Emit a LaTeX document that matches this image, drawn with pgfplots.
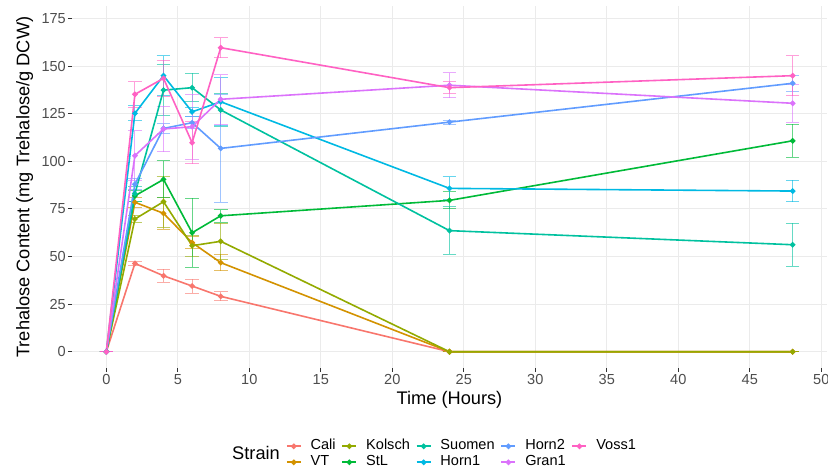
\documentclass[border=0pt]{standalone}
\usepackage{fontspec}
\setmainfont{Liberation Sans}
\usepackage{pgfplots}
\usepackage{pgfplotstable}
\pgfplotsset{compat=1.18}
\definecolor{cCali}{HTML}{F8766D}
\definecolor{cVT}{HTML}{D39200}
\definecolor{cKolsch}{HTML}{93AA00}
\definecolor{cStL}{HTML}{00BA38}
\definecolor{cSuomen}{HTML}{00C19F}
\definecolor{cHornA}{HTML}{00B9E3}
\definecolor{cHornB}{HTML}{619CFF}
\definecolor{cGran}{HTML}{DB72FB}
\definecolor{cVoss}{HTML}{FF61C3}
\definecolor{gridc}{HTML}{EBEBEB}
\definecolor{tickc}{HTML}{333333}
\definecolor{labc}{HTML}{4D4D4D}

\pgfplotstableread{
t v e
0 0 0
2 46.4 1
4 39.9 3.3
6 34.5 3.7
8 29.1 2.4
24 0 0
48 0 0
}\dCali
\pgfplotstableread{
t v e
0 0 0
2 78.5 2.5
4 72.7 8.4
6 57.3 3
8 46.8 4.3
24 0 0
48 0 0
}\dVT
\pgfplotstableread{
t v e
0 0 0
2 69.7 2
4 78.8 13.5
6 55.7 5.5
8 58 9.6
24 0 0
48 0 0
}\dKolsch
\pgfplotstableread{
t v e
0 0 0
2 81.9 3
4 90.5 9.7
6 62.5 18
8 71.4 3.3
24 79.5 4.5
48 110.8 8.7
}\dStL
\pgfplotstableread{
t v e
0 0 0
2 83 4
4 137.4 13.5
6 138.7 7.5
8 127 8.5
24 63.6 12.5
48 56.2 11.4
}\dSuomen
\pgfplotstableread{
t v e
0 0 0
2 125.2 4
4 145 10.5
6 126 2.5
8 131.3 12.7
24 85.8 6
48 84.4 5.7
}\dHornA
\pgfplotstableread{
t v e
0 0 0
2 88 3
4 117.3 2.5
6 120.3 3
8 106.8 28.3
24 120.6 1
48 141 4.2
}\dHornB
\pgfplotstableread{
t v e
0 0 0
2 103 13
4 117 12
6 118.2 17
8 132.6 13
24 140 6.5
48 130.5 10
}\dGran
\pgfplotstableread{
t v e
0 0 0
2 135.2 6.7
4 143.6 9.5
6 109.8 11
8 159.7 5.2
24 138.7 3
48 145 10.5
}\dVoss

\newcommand{\errplot}[2]{\addplot[forget plot, draw=none, mark=none,
  error bars/.cd, y dir=both, y explicit,
  error bar style={draw=#1, line width=1bp, opacity=0.6},
  error mark options={rotate=90, mark size=6.8bp, line width=1bp, draw=#1, opacity=0.6}]
  table[x=t,y=v,y error=e] {#2};}
\newcommand{\lineplot}[2]{\addplot[forget plot, color=#1, line width=1.6bp, mark=*, mark size=1.9bp, mark options={solid}]
  table[x=t,y=v] {#2};}
\newcommand{\legimg}[1]{\addlegendimage{#1, line width=1.6bp, mark=*, mark size=1.9bp, mark options={solid}}}

\begin{document}
\begin{tikzpicture}
\useasboundingbox (-72bp,-104.8bp) rectangle (756bp,368.2bp);
\begin{axis}[
  at={(0,0)}, anchor=south west,
  scale only axis, width=755bp, height=362.2bp,
  xmin=-2.4, xmax=50.4, ymin=-8.65, ymax=181.6,
  xtick={0,5,...,50}, ytick={0,25,...,175},
  tick pos=left, axis line style={draw=none},
  tick align=outside, major tick length=4bp,
  tick style={color=tickc, line width=1.1bp},
  grid=major, major grid style={color=gridc, line width=1.1bp},
  /pgf/number format/assume math mode=true,
  ticklabel style={font=\fontsize{14.6}{17}\selectfont, text=labc},
  xticklabel style={anchor=north, inner sep=0pt, yshift=-2bp},
  yticklabel style={anchor=east, inner sep=0pt, xshift=-2bp},
  xlabel={Time (Hours)},
  ylabel={Trehalose Content (mg Trehalose/g DCW)},
  label style={font=\fontsize{18.3}{22}\selectfont},
  xlabel style={at={(axis description cs:0.5,-0.1016)}, anchor=base},
  ylabel style={at={(axis description cs:-0.0566,0.5)}, anchor=base},
  legend columns=5,
  legend cell align=left,
  legend image code/.code={\draw[mark repeat=2,mark phase=2,#1] plot coordinates {(0bp,0bp) (7bp,0bp) (14bp,0bp)};},
  legend style={at={(axis description cs:0.2834,-0.1935)}, anchor=north west,
    draw=none, fill=none, inner sep=0pt, outer sep=0pt,
    font=\fontsize{14.6}{17}\selectfont,
    nodes={inner sep=0pt, text height=11bp, text depth=5bp},
    /tikz/every odd column/.append style={column sep=9bp},
    /tikz/every even column/.append style={column sep=6bp},
    row sep=0pt},
]
\errplot{cCali}{\dCali}
\errplot{cVT}{\dVT}
\errplot{cKolsch}{\dKolsch}
\errplot{cStL}{\dStL}
\errplot{cSuomen}{\dSuomen}
\errplot{cHornA}{\dHornA}
\errplot{cHornB}{\dHornB}
\errplot{cGran}{\dGran}
\errplot{cVoss}{\dVoss}
\lineplot{cCali}{\dCali}
\lineplot{cVT}{\dVT}
\lineplot{cKolsch}{\dKolsch}
\lineplot{cStL}{\dStL}
\lineplot{cSuomen}{\dSuomen}
\lineplot{cHornA}{\dHornA}
\lineplot{cHornB}{\dHornB}
\lineplot{cGran}{\dGran}
\lineplot{cVoss}{\dVoss}
\legimg{cCali}\addlegendentry{Cali}
\legimg{cKolsch}\addlegendentry{Kolsch}
\legimg{cSuomen}\addlegendentry{Suomen}
\legimg{cHornB}\addlegendentry{Horn2}
\legimg{cVoss}\addlegendentry{Voss1}
\legimg{cVT}\addlegendentry{VT}
\legimg{cStL}\addlegendentry{StL}
\legimg{cHornA}\addlegendentry{Horn1}
\legimg{cGran}\addlegendentry{Gran1}
\end{axis}
\node[anchor=base west, inner sep=0pt, font=\fontsize{18.3}{22}\selectfont] at (160bp,-91.1bp) {Strain};
\end{tikzpicture}
\end{document}
